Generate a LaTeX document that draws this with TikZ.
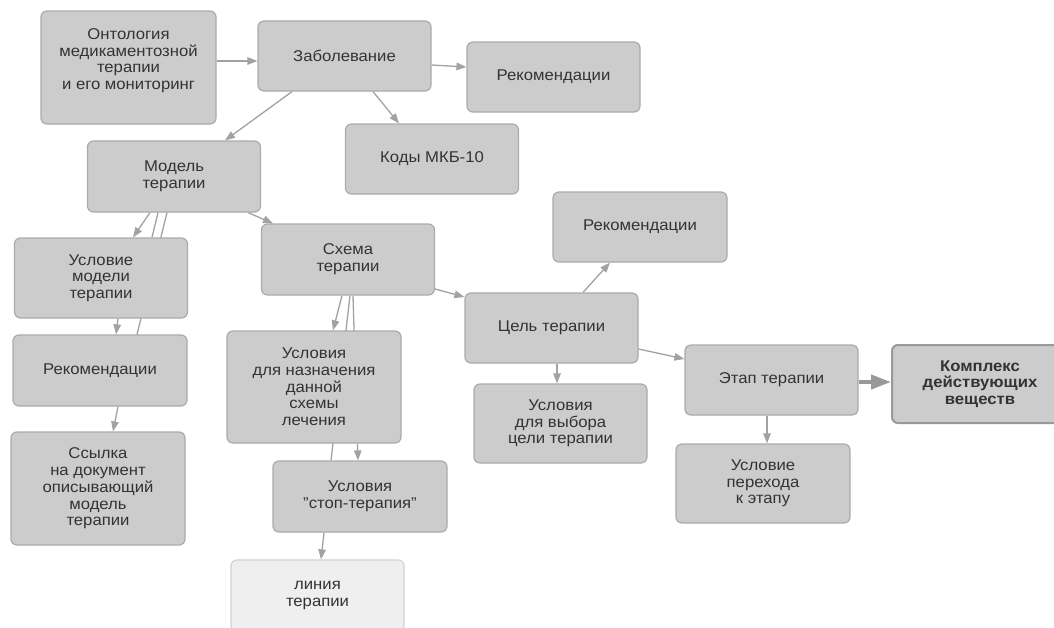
\documentclass[tikz,border=0pt]{standalone}
\usepackage{fontspec}
\setmainfont{Liberation Sans}[FakeStretch=1.07]
\usetikzlibrary{arrows.meta,backgrounds}
\definecolor{boxfill}{HTML}{CCCCCC}
\definecolor{boxline}{HTML}{ABABAB}
\definecolor{lightfill}{HTML}{EFEFEF}
\definecolor{lightline}{HTML}{D2D2D2}
\definecolor{txt}{HTML}{333333}
\definecolor{edgec}{HTML}{A2A2A2}
\definecolor{strongline}{HTML}{999999}
\tikzset{
  box/.style={draw=boxline, fill=boxfill, line width=1.2pt, rounded corners=6pt,
    text=txt, align=center, inner sep=0pt, minimum width=173pt, minimum height=71pt,
    font=\fontsize{15.6}{16.7}\selectfont},
  lightbox/.style={box, draw=lightline, fill=lightfill},
  strongbox/.style={box, draw=strongline, line width=2pt, font=\fontsize{15.6}{16.7}\selectfont\bfseries},
  conn/.style={draw=edgec, line width=1.3pt, -{Triangle[length=10pt,width=7.5pt]}},
  plainconn/.style={draw=edgec, line width=1.3pt},
  thickconn/.style={draw=strongline, line width=4pt, -{Triangle[length=20pt,width=14pt]}}
}
\begin{document}
\begin{tikzpicture}[x=1pt,y=-1pt]
\useasboundingbox (0,0) rectangle (1054,627);
\clip (0,0) rectangle (1054,627);
\node[box, minimum width=175pt, minimum height=113pt] (ont) at (128.5,67.5)
  {Онтология\\медикаментозной\\терапии\\и его мониторинг\\\mbox{}};
\node[box, minimum height=70pt] (zab) at (344.5,56) {Заболевание};
\node[box, minimum height=70pt] (rec1) at (553.5,77) {Рекомендации};
\node[box, minimum height=70pt] (kod) at (432,159) {Коды МКБ-10};
\node[box] (mod) at (174,176.5) {Модель\\терапии};
\node[box] (sch) at (348,259.5) {Схема\\терапии};
\node[box, minimum height=80pt] (um) at (101,278) {Условие\\модели\\терапии};
\node[box, minimum width=174pt] (recL) at (100,370.5) {Рекомендации};
\node[box, minimum width=174pt, minimum height=113pt] (ssy) at (98,488.5)
  {Ссылка\\на документ\\описывающий\\модель\\терапии};
\node[box, minimum width=174pt, minimum height=112pt] (una) at (314,387)
  {Условия\\для назначения\\данной\\схемы\\лечения};
\node[box, minimum width=174pt] (stop) at (360,496.5) {Условия\\\symbol{34}стоп-терапия\symbol{34}};
\node[lightbox] (lin) at (317.5,595.5) {линия\\терапии};
\node[box, minimum width=174pt, minimum height=70pt] (recR) at (640,227) {Рекомендации};
\node[box, minimum height=70pt] (cel) at (551.5,328) {Цель терапии};
\node[box, minimum height=79pt] (vyb) at (560.5,423.5) {Условия\\для выбора\\цели терапии};
\node[box, minimum height=70pt] (etap) at (771.5,380) {Этап терапии};
\node[strongbox, minimum width=176pt, minimum height=78pt] (kom) at (980,384)
  {Комплекс\\действующих\\веществ};
\node[box, minimum width=174pt, minimum height=79pt] (per) at (763,483.5)
  {Условие\\перехода\\к этапу};
\begin{pgfonlayer}{background}
\fill[white] (0,0) rectangle (1054,627);
\draw[conn] ([yshift=6.5pt]ont.east) -- ([yshift=-5pt]zab.west);
\draw[conn] ([yshift=-9pt]zab.east) -- ([yshift=10pt]rec1.west);
\draw[conn] ([xshift=-52.5pt]zab.south) -- ([xshift=51pt]mod.north);
\draw[conn] ([xshift=28.5pt]zab.south) -- ([xshift=-33pt]kod.north);
\draw[conn] ([xshift=74pt]mod.south) -- ([xshift=-75pt]sch.north);
\draw[conn] ([xshift=-24pt]mod.south) -- ([xshift=32pt]um.north);
\draw[plainconn] ([xshift=-16pt]mod.south) -- ([xshift=51pt]um.north);
\draw[plainconn] ([xshift=-7pt]mod.south) -- ([xshift=37pt]recL.north);
\draw[conn] ([xshift=17pt]um.south) -- ([xshift=16pt]recL.north);
\draw[conn] ([xshift=18pt]recL.south) -- ([xshift=15pt]ssy.north);
\draw[conn] ([xshift=-6pt]sch.south) -- ([xshift=19pt]una.north);
\draw[plainconn] ([xshift=2pt]sch.south) -- ([xshift=-29pt]stop.north);
\draw[conn] ([xshift=5pt]sch.south) -- ([xshift=-2pt]stop.north);
\draw[conn] ([xshift=-36pt]stop.south) -- ([xshift=3.5pt]lin.north);
\draw[conn] ([yshift=-29.5pt]sch.east) -- ([yshift=31pt]cel.west);
\draw[conn] ([xshift=31.5pt]cel.north) -- ([xshift=-30pt]recR.south);
\draw[conn] ([xshift=5.5pt]cel.south) -- ([xshift=-3.5pt]vyb.north);
\draw[conn] ([yshift=-21pt]cel.east) -- ([yshift=21pt]etap.west);
\draw[thickconn] ([yshift=-2pt]etap.east) -- ([yshift=2pt]kom.west);
\draw[conn] ([xshift=-4.5pt]etap.south) -- ([xshift=4pt]per.north);
\end{pgfonlayer}
\end{tikzpicture}
\end{document}
